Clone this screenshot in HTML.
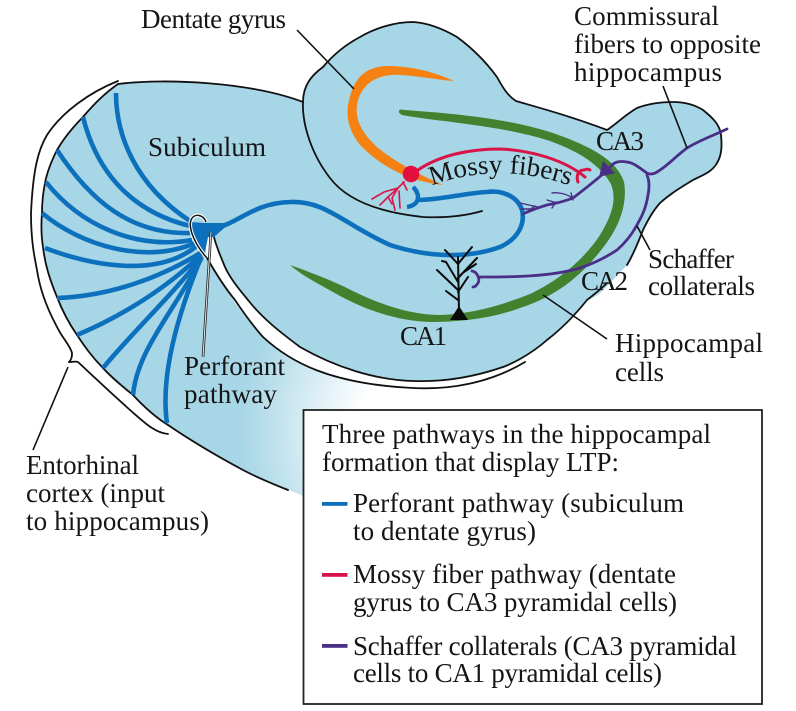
<!DOCTYPE html>
<html>
<head>
<meta charset="utf-8">
<style>
html,body{margin:0;padding:0;background:#fff;width:796px;height:711px;overflow:hidden}
svg{display:block}
text{font-family:"Liberation Serif",serif;font-size:27px;fill:#151515}
</style>
</head>
<body>
<svg width="796" height="711" viewBox="0 0 796 711" xmlns="http://www.w3.org/2000/svg">
<defs>
<radialGradient id="fade" gradientUnits="userSpaceOnUse" cx="430" cy="430" r="190">
<stop offset="0.38" stop-color="#fff" stop-opacity="1"/>
<stop offset="1" stop-color="#fff" stop-opacity="0"/>
</radialGradient>
<path id="mossy" d="M431 186 Q 500 160 574 187"/>
</defs>

<!-- outer blob (subiculum/entorhinal) -->
<path d="M118 84 C 165 78, 250 82, 303 102 L 420 380 L 420 500 L 303 496 L 243 470 C 215 455, 190 440, 168 425 C 155 417, 145 408, 133 395 C 122 386, 112 378, 103 368 C 92 357, 85 347, 77 335 C 68 322, 62 310, 57 297 C 50 280, 45 265, 43 247 C 41 235, 41 225, 42 213 C 42 203, 43 193, 45 183 C 47 172, 52 160, 57 150 C 64 138, 73 127, 83 117 C 93 105, 105 93, 118 84 Z" fill="#a7d6e6"/>
<path d="M230 340 H430 V510 H303 L243 470 L230 462 Z" fill="url(#fade)"/>
<rect x="304" y="411" width="200" height="100" fill="#fff"/>

<!-- white band -->
<path d="M200 236 C 205 255, 228 300, 263 337 C 290 362, 330 384, 413 388 C 450 390, 490 383, 530 360 L 547 340 L 500 340 L 240 260 L 213 233 Z" fill="#fff"/>

<!-- main region -->
<path d="M303 102 C 303 85, 312 75, 323 67 C 333 55, 345 45, 360 37 C 375 28, 395 22, 413 22 C 430 23, 445 30, 457 37 C 472 48, 486 62, 497 77 C 503 88, 508 96, 516 101 C 540 108, 570 116, 607 130 C 615 125, 625 115, 637 108 C 650 103, 662 102, 673 102 C 685 102, 695 105, 703 110 C 713 118, 720 125, 721 135 C 722 145, 722 155, 717 163 C 712 172, 703 175, 693 180 C 680 188, 670 194, 660 203 C 652 212, 647 222, 643 230 C 638 243, 633 255, 627 265 L 610 283 C 600 295, 590 300, 587 300 C 575 315, 560 330, 547 340 C 530 355, 510 365, 500 368 C 470 378, 440 382, 413 381 C 375 380, 335 367, 300 347 C 280 332, 262 318, 248 300 C 238 288, 230 278, 225 267 C 220 255, 215 243, 213 233 L 195 225 L 118 84 C 165 78, 250 82, 303 102 Z" fill="#a7d6e6"/>

<!-- outlines -->
<g fill="none" stroke="#111" stroke-width="1.8" stroke-linecap="round">
<path d="M118 84 C 165 78, 250 82, 303 102"/>
<path d="M303 102 C 303 85, 312 75, 323 67 C 333 55, 345 45, 360 37 C 375 28, 395 22, 413 22 C 430 23, 445 30, 457 37 C 472 48, 486 62, 497 77 C 503 88, 508 96, 516 101 C 540 108, 570 116, 607 130 C 615 125, 625 115, 637 108 C 650 103, 662 102, 673 102 C 685 102, 695 105, 703 110 C 713 118, 720 125, 721 135 C 722 145, 722 155, 717 163 C 712 172, 703 175, 693 180 C 680 188, 670 194, 660 203 C 652 212, 647 222, 643 230 C 638 243, 633 255, 627 265"/>
<path d="M607 283 C 600 290, 592 296, 587 300 C 575 315, 560 330, 547 340 C 530 355, 510 365, 500 368 C 470 378, 440 382, 413 381 C 375 380, 335 367, 300 347 C 280 332, 262 318, 248 300 C 238 288, 230 278, 225 267 C 220 255, 215 243, 213 233"/>
<path d="M207 258 C 215 272, 225 288, 235 300 C 245 315, 255 328, 263 337 C 290 362, 330 384, 413 388 C 450 390, 490 383, 525 362"/>
<path d="M303 102 C 302 125, 312 155, 330 178 C 345 198, 375 212, 423 217 C 445 218, 465 216, 482 211"/>
<path d="M118 81 C 90 92, 62 112, 47 135 C 38 150, 33 170, 31 213 C 31 240, 34 255, 37 270 C 40 290, 48 310, 56 325 C 62 338, 70 345, 72 353 C 72 358, 71 360, 69 362"/>
<path d="M69 362 C 73 362, 76 361, 78 362 C 95 378, 110 392, 130 410 C 145 423, 155 433, 168 434"/>
<path d="M168 425 C 190 440, 215 455, 243 470 C 258 478, 273 484, 288 490"/>
<path d="M168 425 C 155 417, 145 408, 133 395 C 122 386, 112 378, 103 368 C 92 357, 85 347, 77 335 C 68 322, 62 310, 57 297 C 50 280, 45 265, 43 247 C 41 235, 41 225, 42 213 C 42 203, 43 193, 45 183 C 47 172, 52 160, 57 150 C 64 138, 73 127, 83 117 C 93 105, 105 93, 118 84"/>
</g>

<!-- Perforant fibers -->
<g fill="none" stroke="#0d70bd" stroke-width="4.6" stroke-linecap="butt">
<path d="M116 93 C 116 135, 135 185, 190 221"/>
<path d="M83 117 C 95 165, 125 210, 190 226"/>
<path d="M57 150 C 90 200, 130 235, 192 233"/>
<path d="M46 182 C 80 225, 135 250, 192 240"/>
<path d="M42 213 C 80 245, 145 265, 195 243"/>
<path d="M45 248 C 90 265, 160 280, 200 243"/>
<path d="M57 298 C 110 296, 160 278, 202 252"/>
<path d="M77 335 C 125 315, 170 285, 202 254"/>
<path d="M103 368 C 130 335, 172 295, 202 257"/>
<path d="M133 395 C 137 350, 175 310, 201 259"/>
<path d="M167 423 C 160 375, 178 315, 200 260"/>
<path d="M210 228 C 235 228, 250 203, 290 202 C 325 200, 345 225, 390 245 C 430 258, 470 258, 500 247 C 520 238, 525 222, 522 210 C 517 195, 500 190, 487 192 C 465 193, 440 200, 418 200"/>
<path d="M413 187 C 420 193, 421 205, 407 207" stroke-width="4.4"/>
</g>
<path d="M190 222 L 205 223 L 230 223 L 214 237 L 208 237 L 204 258 L 193 240 Z" fill="#0d70bd"/>

<!-- slit loop & perforant leader -->
<path d="M207 258 C 195 245, 188 228, 191 220 C 194 213, 203 214, 206 222" fill="none" stroke="#fff" stroke-width="3.6"/>
<path d="M207 258 C 195 245, 188 228, 191 220 C 194 213, 203 214, 206 222" fill="none" stroke="#111" stroke-width="1.5"/>
<path d="M211 232 L 203 357" fill="none" stroke="#222" stroke-width="2.6"/>
<path d="M211 232 L 203 357" fill="none" stroke="#e4e4e4" stroke-width="1"/>

<!-- Dentate / orange -->
<path d="M454 81 C 430 70, 410 67, 392 66 C 365 65, 353 78, 348 105 C 346 120, 350 132, 360 145 C 375 160, 400 180, 443 185 C 420 175, 395 162, 377 147 C 362 133, 355 120, 357 105 C 360 88, 372 76, 392 75 C 410 74, 435 80, 454 81 Z" fill="#f58113"/>

<!-- Green cells -->
<path d="M400 109.5 C 440 113, 500 116, 553 133 C 590 146, 617 160, 624 182 C 628 205, 618 228, 605 245 C 585 272, 560 295, 520 308 C 490 319, 460 322, 430 322 C 400 321, 370 312, 340 296 C 325 287, 305 278, 290 265 C 310 272, 330 280, 345 287 C 370 300, 405 315, 440 315 C 470 314, 500 306, 530 294 C 560 280, 585 258, 600 235 C 612 215, 617 200, 611 184 C 600 165, 580 152, 550 141 C 500 125, 440 122, 402 115 Q 397 112 400 109.5 Z" fill="#42812e"/>

<!-- Red -->
<g fill="none" stroke="#d81547" stroke-linecap="round">
<path d="M418 170 C 440 155, 470 149, 500 149 C 530 150, 565 160, 585 177" stroke-width="3"/>
<path d="M578 182 C 576 176, 578 170, 584 170 C 586 169, 588 169, 590 170" stroke-width="3"/>
<path d="M404 182 L 398 188 L 384 192 L 372 199 M398 188 L 388 197 L 380 205 M398 188 L 392 198 L 395 210 M399 191 L 400 208 M388 197 L 392 204 M403 182 L 407 190" stroke-width="1.6"/>
</g>
<circle cx="411" cy="174" r="8.3" fill="#e3103f"/>

<!-- Purple -->
<g fill="none" stroke="#4a2e88" stroke-linecap="round">
<path d="M727 129 C 710 137, 700 140, 687 148 C 675 157, 668 165, 660 170 C 655 174, 650 175, 647 173 C 642 170, 635 163, 627 162 C 620 161, 615 161, 610 167 C 605 173, 590 185, 573 198 C 560 203, 552 204, 547 205 C 540 207, 532 210, 525 213" stroke-width="2.8"/>
<path d="M647 175 C 650 182, 649 190, 648 195 C 646 208, 642 216, 638 223 C 632 235, 625 243, 617 250 C 605 258, 592 264, 580 268 C 550 277, 510 277, 480 277" stroke-width="2.8"/>
<path d="M472 271 C 478 272, 480 280, 478 283 C 476 286, 475 287, 473 287" stroke-width="2.8"/>
<path d="M520 203 L 538 207 M522 215 L 535 206 M521 209 L 530 209 M552 193 C 558 192, 566 194, 571 197 M573 200 L 571 193 M547 200 L 557 203 M552 208 L 556 202" stroke-width="1.4"/>
</g>
<path d="M603 161 L 615 173 L 599 177 Z" fill="#4a2e88"/>

<!-- Pyramidal -->
<g fill="none" stroke="#0a0a0a" stroke-width="2" stroke-linecap="round">
<path d="M458 257 L 459 312"/>
<path d="M458 264 L 445 250 M458 264 L 472 247 M458 282 L 446 262 L 442 261 M458 278 L 477 258 M458 290 L 437 270 M458 300 L 446 291 M458 292 L 468 277 M464 272 L 476 264"/>
</g>
<path d="M450 320 L 468 320 L 459 306 Z" fill="#0a0a0a"/>

<!-- Leaders -->
<g fill="none" stroke="#111" stroke-width="1.6">
<path d="M297 30 L 354 89"/>
<path d="M663 86 L 687 148"/>
<path d="M637 226 L 650 250"/>
<path d="M543 295 L 607 339"/>
<path d="M68 367 L 33 450"/>
</g>

<!-- Labels -->
<text x="141" y="28" textLength="145">Dentate gyrus</text>
<text x="574" y="25" textLength="145">Commissural</text>
<text x="574" y="53" textLength="187">fibers to opposite</text>
<text x="574" y="81" textLength="148">hippocampus</text>
<text x="596" y="150" textLength="48">CA3</text>
<text x="148" y="156" textLength="118">Subiculum</text>
<text x="184" y="375" textLength="101">Perforant</text>
<text x="184" y="403" textLength="93">pathway</text>
<text x="648" y="268" textLength="86">Schaffer</text>
<text x="648" y="295" textLength="107">collaterals</text>
<text x="581" y="290" textLength="47">CA2</text>
<text x="400" y="345" textLength="47">CA1</text>
<text x="615" y="352" textLength="148">Hippocampal</text>
<text x="615" y="381" textLength="49">cells</text>
<text x="26" y="474" textLength="113">Entorhinal</text>
<text x="26" y="502" textLength="139">cortex (input</text>
<text x="26" y="530" textLength="183">to hippocampus)</text>
<text><textPath href="#mossy" startOffset="1">Mossy fibers</textPath></text>

<!-- Legend -->
<rect x="303.5" y="410" width="458.5" height="294" fill="#fff" stroke="#222" stroke-width="1.8"/>
<rect x="322" y="502" width="25.5" height="3.8" fill="#0d70bd"/>
<rect x="322" y="573" width="25.5" height="3.8" fill="#d81547"/>
<rect x="322" y="644" width="25.5" height="3.8" fill="#4a2e88"/>
<text x="322" y="443" textLength="389">Three pathways in the hippocampal</text>
<text x="322" y="471" textLength="297">formation that display LTP:</text>
<text x="353" y="512" textLength="331">Perforant pathway (subiculum</text>
<text x="353" y="540" textLength="183">to dentate gyrus)</text>
<text x="353" y="583" textLength="323">Mossy fiber pathway (dentate</text>
<text x="353" y="611" textLength="324">gyrus to CA3 pyramidal cells)</text>
<text x="353" y="655" textLength="384">Schaffer collaterals (CA3 pyramidal</text>
<text x="353" y="682" textLength="309">cells to CA1 pyramidal cells)</text>
</svg>
</body>
</html>
